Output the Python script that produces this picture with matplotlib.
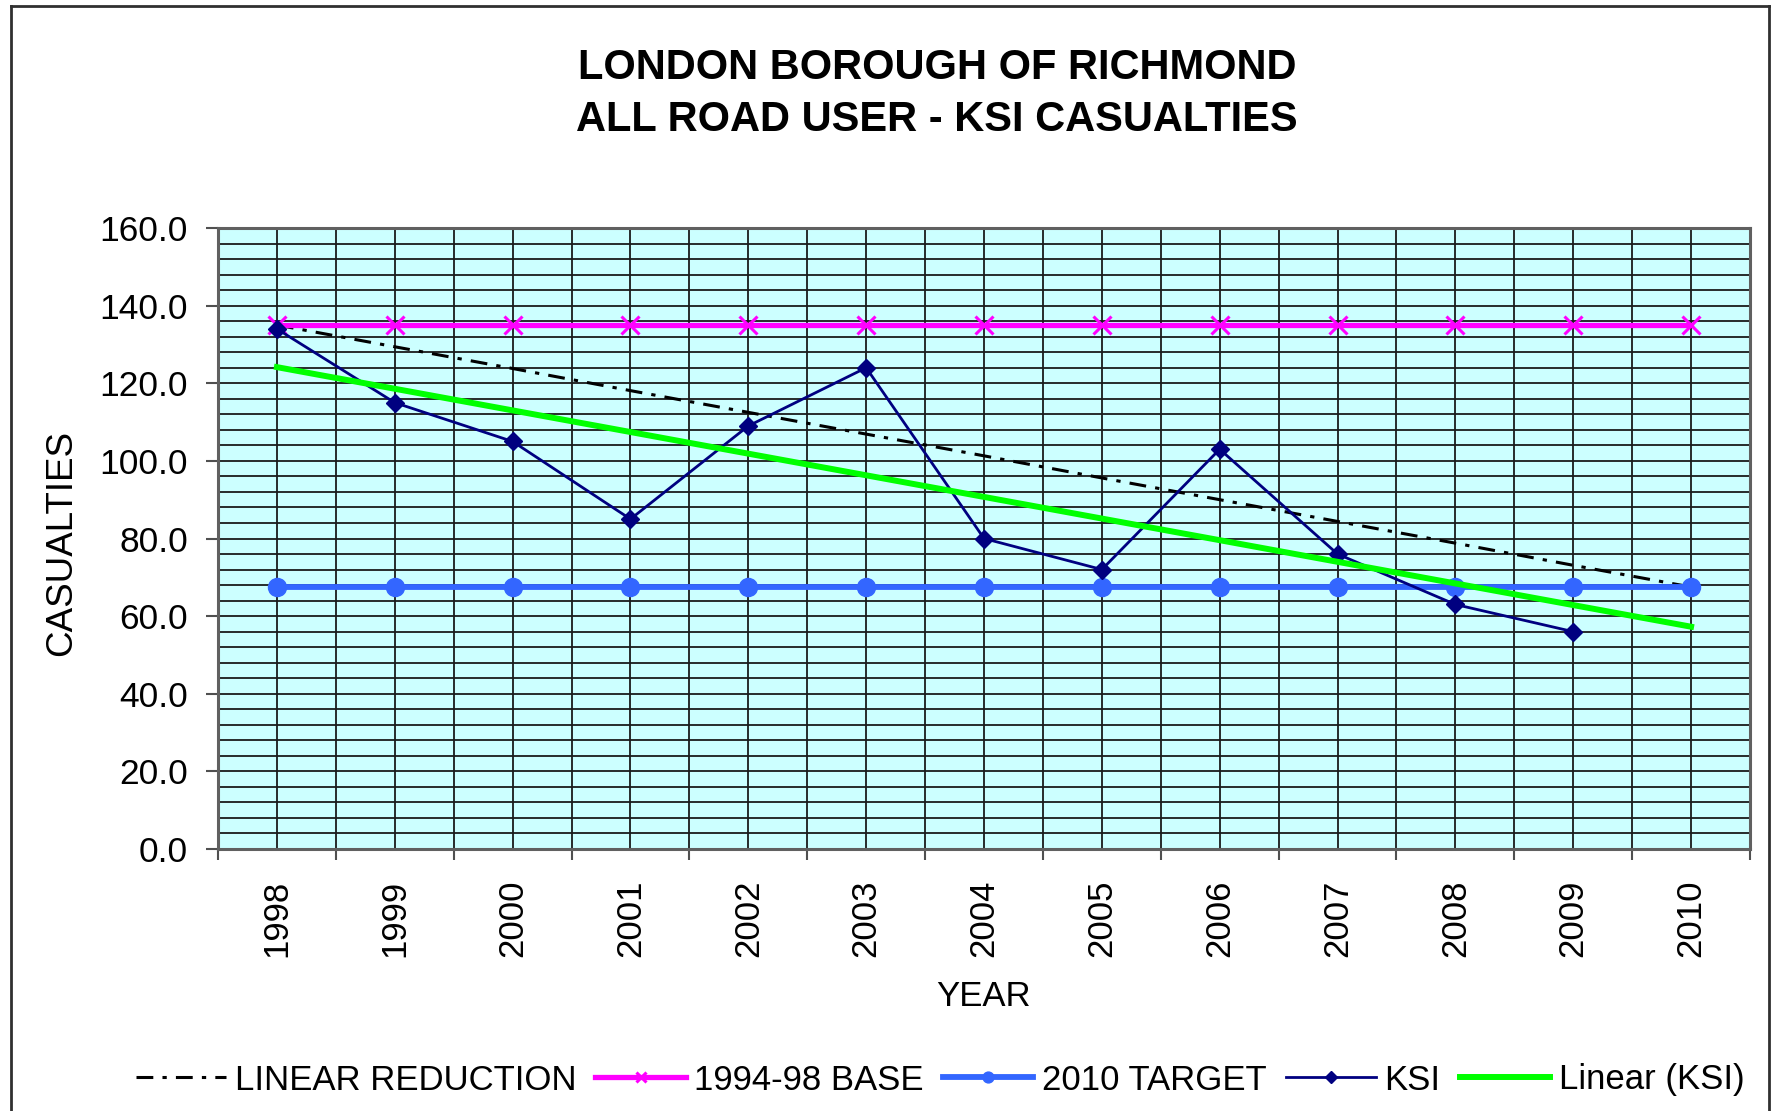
import numpy as np
import matplotlib
matplotlib.use("Agg")
import matplotlib.pyplot as plt
from matplotlib.ticker import FixedLocator
from matplotlib.lines import Line2D

plt.rcParams['font.family'] = ['Liberation Sans', 'DejaVu Sans']

years = ["1998", "1999", "2000", "2001", "2002", "2003", "2004",
         "2005", "2006", "2007", "2008", "2009", "2010"]
linear_reduction = [135.0, 129.4, 123.8, 118.1, 112.5, 106.9, 101.3,
                    95.6, 90.0, 84.4, 78.8, 73.1, 67.5]
base_1994_98 = [135.0] * 13
target_2010 = [67.5] * 13
ksi = [134, 115, 105, 85, 109, 124, 80, 72, 103, 76, 63, 56]

title = "LONDON BOROUGH OF RICHMOND\nALL ROAD USER - KSI CASUALTIES"

W, H = 1774, 1111
fig = plt.figure(figsize=(W / 100, H / 100), dpi=100)
ax = fig.add_axes([218 / W, 1 - 849 / H, (1750 - 218) / W, (849 - 228) / H])
ax.set_facecolor('#CCFFFF')

x = np.arange(len(years))
xk = np.arange(len(ksi))

# trendline of KSI (least squares), extended to 2010
coef = np.polyfit(xk, ksi, 1)
trend = np.polyval(coef, x)

ax.plot(x, linear_reduction, color='black', lw=2.2,
        dashes=(5.5, 3.0, 1.4, 3.0), label='LINEAR REDUCTION', zorder=3)
ax.plot(x, base_1994_98, color='#FF00FF', lw=3.8, marker='x', ms=13, mew=2.2,
        label='1994-98 BASE', zorder=4)
ax.plot(x, target_2010, color='#3366FF', lw=4.2, marker='o', ms=13,
        label='2010 TARGET', zorder=5)
ax.plot(xk, ksi, color='#000080', lw=2.0, marker='D', ms=9.5,
        label='KSI', zorder=6)
ax.plot(x, trend, color='#00FF00', lw=4.3, label='Linear (KSI)', zorder=7)

ax.set_xlim(-0.5, 12.5)
ax.set_ylim(0, 160)

# grid
for gx in np.arange(-0.5, 12.6, 0.5):
    ax.axvline(gx, color='#1a1a1a', lw=1.3, zorder=1)
for gy in np.arange(0, 161, 4):
    ax.axhline(gy, color='#1a1a1a', lw=1.3, zorder=1)

ax.set_yticks(np.arange(0, 161, 20))
ax.set_yticklabels([f"{v:.1f}" for v in np.arange(0, 161, 20)])
ax.tick_params(axis='y', direction='out', length=8.6, width=1.5,
               color='#505050', pad=13, labelsize=25.5)

ax.set_xticks(x)
ax.set_xticklabels(years, rotation=90)
ax.xaxis.set_minor_locator(FixedLocator(np.arange(-0.5, 12.6, 1.0)))
ax.tick_params(axis='x', which='major', length=0, pad=22, labelsize=25)
ax.tick_params(axis='x', which='minor', direction='out', length=8,
               width=1.5, color='#505050')

for s in ax.spines.values():
    s.set_color('#606060')
    s.set_linewidth(2.2)
    s.set_zorder(8)

fig.text(937 / W, 1 - 94 / H, title, ha='center', va='center',
         fontsize=30, fontweight='bold', linespacing=1.4)
fig.text(62 / W, 1 - 543 / H, 'CASUALTIES', rotation=90, ha='center',
         va='center', fontsize=26.5)
fig.text(984 / W, 1 - 996 / H, 'YEAR', ha='center', va='center', fontsize=25)

handles, labels = ax.get_legend_handles_labels()
leg = fig.legend(handles, labels, loc='center', ncol=5,
                 bbox_to_anchor=(940 / W, 1 - 1080 / H), frameon=False,
                 fontsize=25, handlelength=2.6, handletextpad=0.25,
                 columnspacing=0.55, markerscale=0.6)

# figure border (left, top, right)
fig.add_artist(Line2D([11 / W, 11 / W], [0, 1 - 6 / H], transform=fig.transFigure,
                      color='#303030', lw=2))
fig.add_artist(Line2D([11 / W, 1769 / W], [1 - 6 / H, 1 - 6 / H],
                      transform=fig.transFigure, color='#303030', lw=2))
fig.add_artist(Line2D([1769 / W, 1769 / W], [0, 1 - 6 / H],
                      transform=fig.transFigure, color='#303030', lw=2))

fig.savefig('out.png', dpi=100)
